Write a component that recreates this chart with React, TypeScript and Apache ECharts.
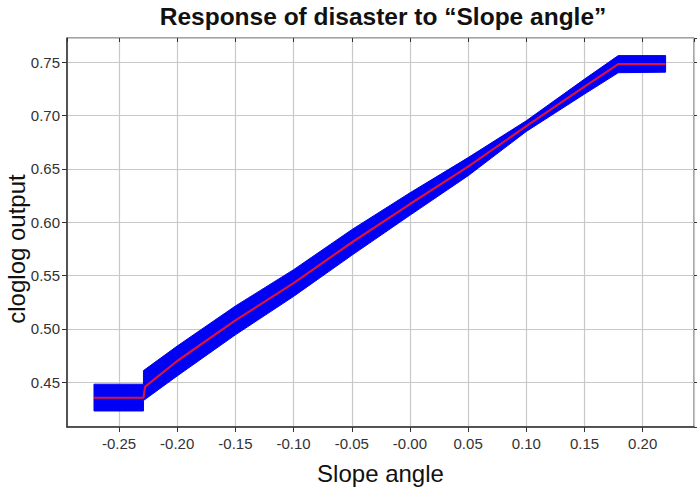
import React, { useEffect, useRef } from 'react';
import * as echarts from 'echarts';

// Blue band (response range)
const bandX = [-0.2715, -0.229, -0.229, -0.2, -0.15, -0.1, -0.05, 0.0, 0.05, 0.1, 0.15, 0.179, 0.2197];
const bandUpper = [0.4483, 0.4483, 0.461, 0.484, 0.5215, 0.5555, 0.593, 0.6275, 0.6605, 0.695, 0.734, 0.756, 0.756];
const bandLower = [0.4232, 0.4232, 0.433, 0.456, 0.4945, 0.5305, 0.569, 0.6065, 0.6435, 0.685, 0.72, 0.74, 0.7405];

// Red mean response line
const lineX = [-0.2715, -0.229, -0.2275, -0.2, -0.15, -0.1, -0.05, 0.0, 0.05, 0.1, 0.15, 0.179, 0.2197];
const lineY = [0.4356, 0.4356, 0.446, 0.47, 0.508, 0.543, 0.581, 0.617, 0.652, 0.69, 0.727, 0.748, 0.748];

const xRange = [-0.2947, 0.2441];
const yRange = [0.4082, 0.7725];
const zeroLabel = '-0.00';

const titleText = 'Response of disaster to \u201CSlope angle\u201D';
const xName = 'Slope angle';
const yName = 'cloglog output';

const FONT = '"Liberation Sans", Arial, sans-serif';

const fmt = (v: number) => (Math.abs(v) < 1e-9 ? zeroLabel : v.toFixed(2));

export default function App() {
  const ref = useRef<HTMLDivElement>(null);
  useEffect(() => {
    if (!ref.current) return;
    const chart = echarts.init(ref.current, null, { renderer: 'svg' });
    const axisLabelBase = { fontSize: 15, color: '#333', fontFamily: FONT };
    chart.setOption({
      animation: false,
      backgroundColor: '#fff',
      grid: {
        left: 67,
        right: 3,
        top: 38,
        bottom: 67,
        show: true,
        borderColor: '#444',
        borderWidth: 1,
        backgroundColor: 'transparent',
      },
      graphic: [
        {
          type: 'text',
          x: 383,
          y: 4,
          style: {
            text: titleText,
            fontSize: 24.5,
            fontWeight: 'bold',
            fontFamily: FONT,
            fill: '#111',
            align: 'center',
            verticalAlign: 'top',
          },
        },
        {
          type: 'text',
          x: 16,
          y: 249,
          rotation: Math.PI / 2,
          style: {
            text: yName,
            fontSize: 24,
            fontFamily: FONT,
            fill: '#111',
            align: 'center',
            verticalAlign: 'middle',
          },
        },
      ],
      xAxis: [
        {
          type: 'value',
          min: xRange[0],
          max: xRange[1],
          splitNumber: 10,
          name: xName,
          nameLocation: 'middle',
          nameGap: 34,
          nameTextStyle: { fontSize: 24, color: '#111', fontFamily: FONT },
          axisLine: { show: true, onZero: false, lineStyle: { color: '#333', width: 1.5 } },
          axisTick: { show: true, length: 5, lineStyle: { color: '#333' } },
          axisLabel: { ...axisLabelBase, margin: 9, showMinLabel: false, showMaxLabel: false, formatter: fmt },
          splitLine: { show: true, lineStyle: { color: '#c8c8c8', width: 1.2 } },
        },
        {
          type: 'value',
          position: 'top',
          min: xRange[0],
          max: xRange[1],
          splitNumber: 10,
          axisLine: { show: false, onZero: false },
          axisTick: { show: true, inside: true, length: 4, lineStyle: { color: '#333' } },
          axisLabel: { show: false },
          splitLine: { show: false },
        },
      ],
      yAxis: [
        {
          type: 'value',
          min: yRange[0],
          max: yRange[1],
          splitNumber: 7,
          axisLine: { show: true, onZero: false, lineStyle: { color: '#333', width: 1.5 } },
          axisTick: { show: true, length: 5, lineStyle: { color: '#333' } },
          axisLabel: { ...axisLabelBase, margin: 7, showMinLabel: false, showMaxLabel: false, formatter: fmt },
          splitLine: { show: true, lineStyle: { color: '#c8c8c8', width: 1.2 } },
        },
        {
          type: 'value',
          position: 'right',
          min: yRange[0],
          max: yRange[1],
          splitNumber: 7,
          axisLine: { show: false, onZero: false },
          axisTick: { show: true, length: 3, lineStyle: { color: '#333' } },
          axisLabel: { show: false },
          splitLine: { show: false },
        },
      ],
      series: [
        {
          type: 'custom',
          xAxisIndex: 0,
          yAxisIndex: 0,
          silent: true,
          clip: true,
          z: 2,
          data: [[bandX[0], bandUpper[0]]],
          encode: { x: 0, y: 1 },
          renderItem: (_params: any, api: any) => {
            const pts: number[][] = [];
            for (let i = 0; i < bandX.length; i++) pts.push(api.coord([bandX[i], bandUpper[i]]));
            for (let i = bandX.length - 1; i >= 0; i--) pts.push(api.coord([bandX[i], bandLower[i]]));
            return {
              type: 'polygon',
              shape: { points: pts },
              style: { fill: '#0000f5', stroke: '#0000f5', lineWidth: 1 },
            };
          },
        },
        {
          type: 'line',
          xAxisIndex: 0,
          yAxisIndex: 0,
          z: 3,
          showSymbol: false,
          symbol: 'none',
          silent: true,
          data: lineX.map((x, i) => [x, lineY[i]]),
          lineStyle: { color: '#dc143c', width: 2.2 },
        },
      ],
    });
    return () => chart.dispose();
  }, []);
  return (
    <div
      ref={ref}
      style={{ position: 'absolute', left: 0, top: 0, width: 697, height: 494 }}
    />
  );
}
